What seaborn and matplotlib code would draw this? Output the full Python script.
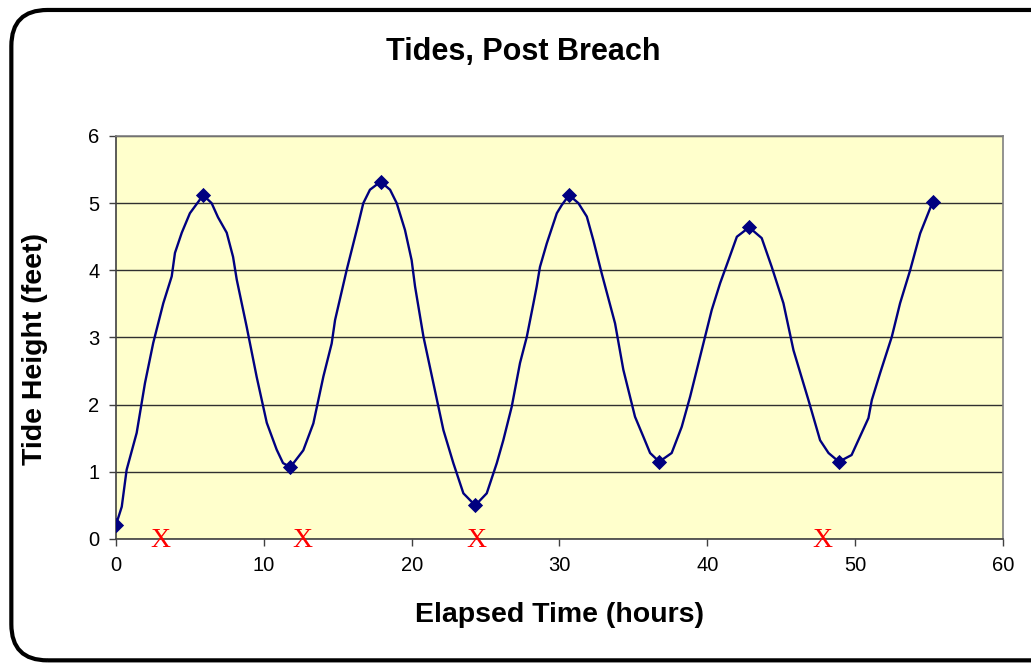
import numpy as np
import pandas as pd
import matplotlib.pyplot as plt
import seaborn as sns
from matplotlib.patches import FancyBboxPatch

# tide curve (hours, feet)
hours = [0.0, 0.39, 0.72, 1.40, 1.96, 2.52, 3.20, 3.77, 3.99, 4.45, 5.0, 5.9,
         6.47, 6.9, 7.49, 7.92, 8.17, 8.84, 9.52, 10.2, 10.87, 11.3, 11.8,
         12.67, 13.35, 14.03, 14.59, 14.82, 15.6, 16.4, 16.73, 17.18, 17.9,
         18.54, 18.99, 19.55, 20.0, 20.23, 20.8, 21.47, 22.15, 22.82, 23.5, 24.3,
         25.08, 25.76, 26.2, 26.77, 27.33, 27.79, 28.24, 28.46, 28.68, 29.14, 29.82, 30.15, 30.65,
         31.28, 31.85, 32.29, 32.85, 33.76, 34.32, 35.11, 35.68, 36.13, 36.75,
         37.59, 38.27, 38.84, 39.62, 40.3, 40.87, 41.43, 42.0, 42.83,
         43.68, 44.36, 45.15, 45.83, 46.84, 47.63, 48.2, 48.9,
         49.76, 50.9, 51.13, 51.69, 52.48, 53.04, 53.72, 54.4, 55.25]
height = [0.21, 0.48, 1.03, 1.58, 2.32, 2.92, 3.51, 3.91, 4.26, 4.56, 4.85, 5.12,
          5.0, 4.79, 4.56, 4.2, 3.86, 3.16, 2.41, 1.73, 1.33, 1.13, 1.07,
          1.32, 1.72, 2.42, 2.91, 3.26, 4.0, 4.7, 5.0, 5.2, 5.32,
          5.2, 5.0, 4.6, 4.15, 3.76, 3.01, 2.32, 1.62, 1.13, 0.68, 0.5,
          0.68, 1.13, 1.47, 1.97, 2.62, 3.01, 3.51, 3.76, 4.05, 4.4, 4.85, 4.97, 5.12,
          5.0, 4.8, 4.45, 3.96, 3.21, 2.52, 1.82, 1.52, 1.28, 1.15,
          1.28, 1.67, 2.12, 2.81, 3.41, 3.81, 4.15, 4.5, 4.64,
          4.48, 4.05, 3.51, 2.81, 2.07, 1.47, 1.28, 1.15,
          1.25, 1.8, 2.07, 2.47, 3.01, 3.51, 4.0, 4.55, 5.02]

# highs and lows (diamond markers)
peak_hours = [0.0, 5.9, 11.8, 17.9, 24.3, 30.65, 36.75, 42.83, 48.9, 55.25]
peak_height = [0.21, 5.12, 1.07, 5.32, 0.5, 5.12, 1.15, 4.64, 1.15, 5.02]

# red X marks along the time axis
x_marks = [3.0, 12.6, 24.4, 47.8]

navy = '#000080'

sns.set_style('white')
plt.rcParams['font.family'] = ['Liberation Sans', 'DejaVu Sans']
plt.rcParams['text.color'] = 'black'
plt.rcParams['xtick.color'] = 'black'
plt.rcParams['ytick.color'] = 'black'

fig = plt.figure(figsize=(10.31, 6.65), dpi=100)
ax = fig.add_axes([0.1125, 0.1895, 0.8603, 0.606])

border = FancyBboxPatch((0.011, 0.007), 1.1, 0.978, boxstyle='round,pad=0,rounding_size=0.035',
                        transform=fig.transFigure, fill=False, ec='black', lw=3,
                        mutation_aspect=1031 / 665)
fig.patches.append(border)

ax.set_facecolor('#FFFFCC')

curve = pd.DataFrame({'hours': hours, 'height': height})
peaks = pd.DataFrame({'hours': peak_hours, 'height': peak_height})
sns.lineplot(data=curve, x='hours', y='height', ax=ax, color=navy, lw=1.7,
             sort=False, estimator=None, zorder=3)
sns.scatterplot(data=peaks, x='hours', y='height', ax=ax, color=navy, marker='D',
                s=60, edgecolor=navy, linewidth=0, zorder=4)

for xm in x_marks:
    ax.text(xm, -0.03, 'X', color='red', fontsize=20, family='Liberation Serif',
            ha='center', va='center', zorder=5, clip_on=False)

ax.set_xlim(0, 60)
ax.set_ylim(0, 6)
ax.set_xticks(range(0, 61, 10))
ax.set_yticks(range(0, 7))
ax.yaxis.grid(True, color='#303030', lw=1)
ax.xaxis.grid(False)
ax.tick_params(axis='both', direction='out', length=5, width=1, color='#404040',
               labelsize=14.5, left=True, bottom=True, pad=7)
for side in ['left', 'bottom']:
    ax.spines[side].set_color('#404040')
    ax.spines[side].set_linewidth(1.2)
for side in ['top', 'right']:
    ax.spines[side].set_color('#808080')
    ax.spines[side].set_linewidth(1.2)

ax.set_xlabel('')
ax.set_ylabel('')
fig.text(0.543, 0.0752, 'Elapsed Time (hours)', fontsize=20.5, fontweight='bold',
         ha='center', va='center')
fig.text(0.034, 0.475, 'Tide Height (feet)', fontsize=20.5, fontweight='bold',
         ha='center', va='center', rotation=90)
fig.text(0.508, 0.922, 'Tides, Post Breach', fontsize=22, fontweight='bold',
         ha='center', va='center')

fig.savefig('out.png', dpi=100)
